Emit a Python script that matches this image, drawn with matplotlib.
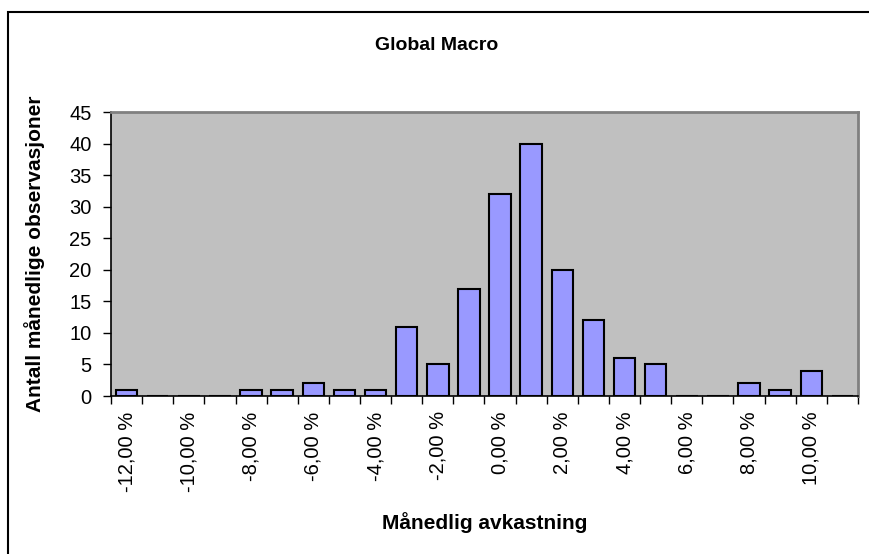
#!/usr/bin/env python3

import matplotlib
matplotlib.use("Agg")
import matplotlib.pyplot as plt
from matplotlib.patches import Rectangle

plt.rcParams['font.family'] = ['Liberation Sans', 'DejaVu Sans']

# monthly return buckets (percent) and number of observations in each
returns = [-12, -11, -10, -9, -8, -7, -6, -5, -4, -3, -2, -1,
           0, 1, 2, 3, 4, 5, 6, 7, 8, 9, 10, 11]
counts = [1, 0, 0, 0, 1, 1, 2, 1, 1, 11, 5, 17,
          32, 40, 20, 12, 6, 5, 0, 0, 2, 1, 4, 0]
tick_labels = ['%d,00 %%' % r for r in returns]

fig = plt.figure(figsize=(8.69, 5.54), dpi=100)
ax = fig.add_axes([111 / 869, 1 - 396 / 554, 747 / 869, 284 / 554])

pos = list(range(len(returns)))
ax.bar(pos, counts, width=0.69, color='#9999FF', edgecolor='black',
       linewidth=1.5, zorder=3)

ax.set_facecolor('#C0C0C0')
ax.set_xlim(-0.5, len(returns) - 0.5)
ax.set_ylim(0, 45)
ax.set_yticks(range(0, 46, 5))

# labels on every other bucket, tick marks on the bucket edges
ax.set_xticks(pos[::2])
ax.set_xticklabels(tick_labels[::2], rotation=90, fontsize=14.5)
ax.set_xticks([p - 0.5 for p in pos] + [len(pos) - 0.5], minor=True)
ax.tick_params(axis='x', which='major', length=0, pad=11)
ax.tick_params(axis='x', which='minor', length=6, width=1, direction='out')
ax.tick_params(axis='y', length=6, width=1, direction='out', labelsize=14.5, pad=8)

for side in ('left', 'bottom'):
    ax.spines[side].set_color('black')
    ax.spines[side].set_linewidth(1.2)
for side in ('top', 'right'):
    ax.spines[side].set_color('#808080')
    ax.spines[side].set_linewidth(2)

ax.set_ylabel('Antall månedlige observasjoner', fontsize=15, fontweight='bold')
ax.yaxis.set_label_coords(-(111 - 45) / 747, 0.5)
fig.text(485 / 869, 1 - 529 / 554, 'Månedlig avkastning', fontsize=15,
         fontweight='bold', ha='center', va='baseline')
fig.text(437 / 869, 1 - 50 / 554, 'Global Macro', fontsize=14,
         fontweight='bold', ha='center', va='baseline')

# chart area border
fig.patches.append(Rectangle((8 / 869, -0.1), 1.1, 1 - 12 / 554 + 0.1,
                             transform=fig.transFigure, fill=False,
                             edgecolor='black', linewidth=1.5))

fig.savefig('out.png', dpi=100)
